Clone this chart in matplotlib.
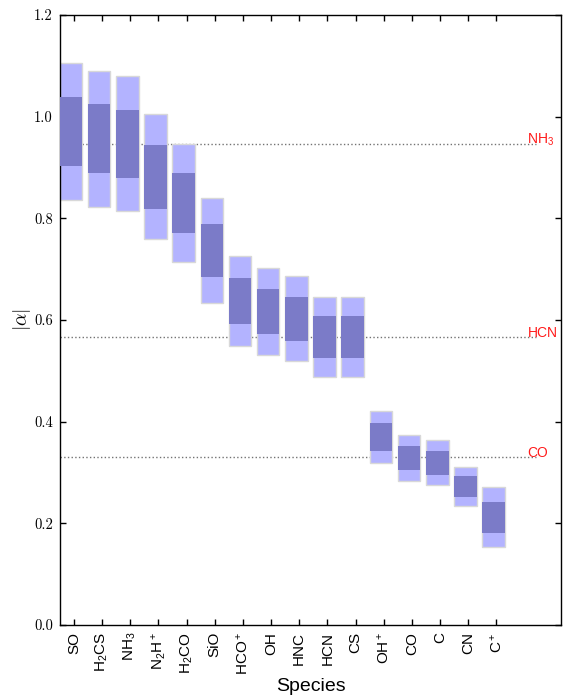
#!/usr/bin/env python
# -*- coding: utf8 -*-
import numpy as np
import matplotlib
matplotlib.use('Agg')
import matplotlib.pyplot as plt

# species and |alpha| ranges (outer = light, inner = dark)
species = ['SO', 'H$_2$CS', 'NH$_3$', 'N$_2$H$^+$', 'H$_2$CO', 'SiO',
           'HCO$^+$', 'OH', 'HNC', 'HCN', 'CS', 'OH$^+$', 'CO', 'C', 'CN',
           'C$^+$']
outer_hi = [1.106, 1.090, 1.079, 1.005, 0.946, 0.840, 0.726, 0.703, 0.687,
            0.646, 0.646, 0.421, 0.374, 0.364, 0.310, 0.271]
inner_hi = [1.039, 1.024, 1.013, 0.944, 0.889, 0.789, 0.682, 0.661, 0.645,
            0.607, 0.607, 0.397, 0.353, 0.343, 0.293, 0.242]
inner_lo = [0.902, 0.889, 0.879, 0.818, 0.771, 0.684, 0.592, 0.573, 0.559,
            0.526, 0.526, 0.343, 0.305, 0.296, 0.252, 0.181]
outer_lo = [0.836, 0.823, 0.814, 0.759, 0.714, 0.634, 0.548, 0.531, 0.519,
            0.487, 0.487, 0.319, 0.284, 0.275, 0.235, 0.153]

# reference lines
ref_names = ['NH$_3$', 'HCN', 'CO']
ref_values = [0.946, 0.567, 0.330]

plt.rcParams['mathtext.fontset'] = 'custom'
plt.rcParams['mathtext.rm'] = 'Liberation Sans'
plt.rcParams['mathtext.it'] = 'Liberation Sans:italic'
plt.rcParams['mathtext.bf'] = 'Liberation Sans:bold'
plt.rcParams['font.family'] = 'Liberation Sans'


def main():
    fig = plt.figure(figsize=(5.64, 6.98), dpi=100)
    ax = fig.add_axes([0.106, 0.1046, 0.889, 0.874])

    x = np.arange(len(species))
    outer_hi_a = np.array(outer_hi)
    outer_lo_a = np.array(outer_lo)
    inner_hi_a = np.array(inner_hi)
    inner_lo_a = np.array(inner_lo)

    ax.bar(x - 0.5, outer_hi_a - outer_lo_a, bottom=outer_lo_a, width=0.8,
           align='edge', color='#b3b3ff', edgecolor='#d8d8d8', linewidth=1.0,
           zorder=2)
    ax.bar(x - 0.5, inner_hi_a - inner_lo_a, bottom=inner_lo_a, width=0.8,
           align='edge', color='#7b7bc8', edgecolor='none', linewidth=0,
           zorder=3)

    for name, val in zip(ref_names, ref_values):
        ax.plot([-0.5, 16.4], [val, val], ls=':', color='0.45', lw=1.0,
                zorder=1)
        ax.text(16.1, val, name, color='#ff1a1a', fontsize=10,
                ha='left', va='baseline', zorder=4)

    ax.set_xlim(-0.5, 17.3)
    ax.set_ylim(0, 1.2)
    ax.set_xticks(x)
    ax.set_xticklabels(species, rotation=90, fontsize=11)
    yt = np.arange(0, 1.21, 0.2)
    ax.set_yticks(yt)
    ax.set_yticklabels(['%.1f' % v for v in yt], family='cmr10',
                       fontsize=10.5)
    ax.tick_params(direction='in', top=True, right=True, length=4,
                   width=1, pad=5)
    for sp in ax.spines.values():
        sp.set_linewidth(1.0)

    ax.set_xlabel('Species', fontsize=14, labelpad=2)
    ax.set_ylabel(r'$|\alpha|$', fontsize=14, math_fontfamily='cm',
                  labelpad=1)

    fig.savefig('out.png', dpi=100)


if __name__ == "__main__":
    main()
